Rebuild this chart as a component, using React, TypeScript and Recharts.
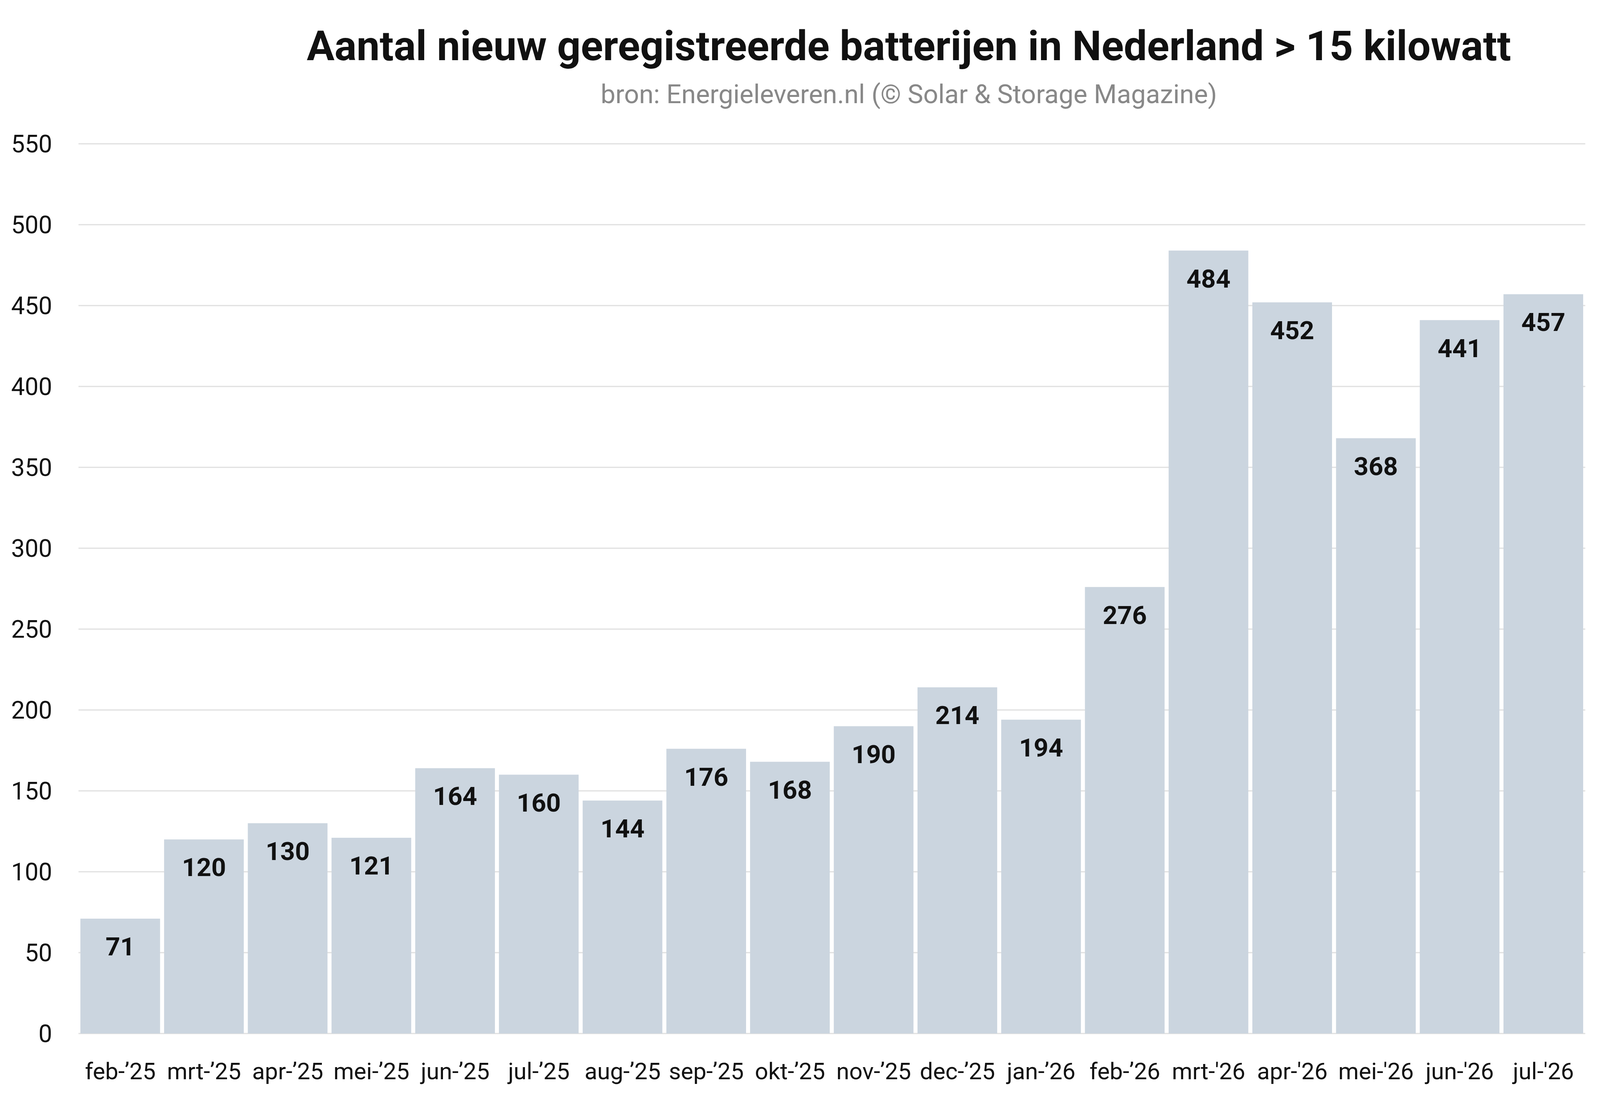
import React from 'react';
import { BarChart, Bar, XAxis, YAxis, CartesianGrid, LabelList } from 'recharts';

const months = [
  'feb-’25', 'mrt-’25', 'apr-’25', 'mei-’25', 'jun-’25', 'jul-’25', 'aug-’25', 'sep-’25', 'okt-’25',
  'nov-’25', 'dec-’25', 'jan-’26', 'feb-’26', "mrt-'26", "apr-'26", "mei-'26", "jun-'26", "jul-'26",
];
const batteries = [71, 120, 130, 121, 164, 160, 144, 176, 168, 190, 214, 194, 276, 484, 452, 368, 441, 457];
const yTicks = [0, 50, 100, 150, 200, 250, 300, 350, 400, 450, 500, 550];

const TITLE = 'Aantal nieuw geregistreerde batterijen in Nederland > 15 kilowatt';
const SUBTITLE = 'bron: Energieleveren.nl (© Solar & Storage Magazine)';

// designed for 4996 wide; the real window can be narrower, so horizontal sizes follow it
const BASE_W = 4996;
const H = 2810;
const W = Math.min(typeof window !== 'undefined' && window.innerWidth ? window.innerWidth : BASE_W, BASE_W);
const sx = W / BASE_W;
const FONT = 'Roboto, "Noto Sans", sans-serif';

const PLOT_TOP = 368;
const PLOT_BOTTOM = 2645;

const tickFont = 73 * sx;
const yFont = 76 * sx;
const labelFont = 80 * sx;
const titleFont = 129 * sx;
const subFont = 82 * sx;

export default function App() {
  const chartData = months.map((month, i) => ({ month, value: batteries[i] }));

  return (
    <div style={{ position: 'absolute', left: 0, top: 0, width: W, height: H, background: '#fff' }}>
      <BarChart
        width={W}
        height={H}
        data={chartData}
        margin={{ top: PLOT_TOP, right: 46 * sx, bottom: 0, left: 0 }}
        barCategoryGap={6 * sx}
      >
        <CartesianGrid vertical={false} stroke="#e0e0e0" strokeWidth={3} />
        <XAxis
          dataKey="month"
          height={H - PLOT_BOTTOM}
          interval={0}
          axisLine={false}
          tickLine={false}
          tickSize={0}
          tickMargin={2741 - PLOT_BOTTOM - 0.355 * tickFont}
          tick={{ fontSize: tickFont, fill: '#111', fontFamily: FONT }}
        />
        <YAxis
          width={245 * sx}
          domain={[0, 550]}
          ticks={yTicks}
          axisLine={false}
          tickLine={false}
          tickSize={0}
          tickMargin={82 * sx}
          tick={{ fontSize: yFont, fill: '#111', fontFamily: FONT }}
        />
        <Bar dataKey="value" fill="#cbd5df" isAnimationActive={false}>
          <LabelList
            dataKey="value"
            position="insideTop"
            offset={71 - 0.355 * labelFont}
            fill="#111"
            fontSize={labelFont}
            fontWeight={700}
            fontFamily={FONT}
          />
        </Bar>
      </BarChart>
      <svg width={W} height={320} style={{ position: 'absolute', left: 0, top: 0 }}>
        <text
          x={2838 * sx}
          y={116 + 0.355 * titleFont}
          textAnchor="middle"
          fontFamily={FONT}
          fontWeight={700}
          fontSize={titleFont}
          fill="#111"
        >
          {TITLE}
        </text>
        <text x={2838 * sx} y={240 + 0.355 * subFont} textAnchor="middle" fontFamily={FONT} fontSize={subFont} fill="#888">
          {SUBTITLE}
        </text>
      </svg>
    </div>
  );
}
